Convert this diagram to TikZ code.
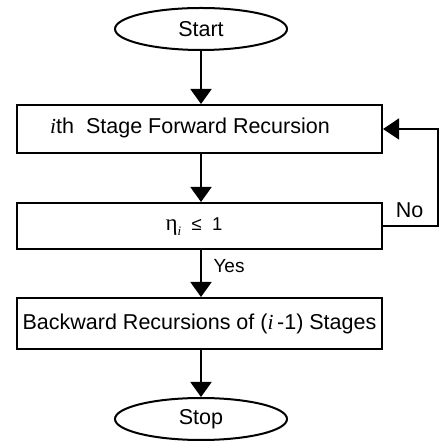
\documentclass[tikz,border=0pt]{standalone}
\usepackage{fontspec}
\setmainfont{Liberation Sans}
\newfontfamily\serifit{Liberation Serif}
\usetikzlibrary{shapes.geometric,arrows.meta}
\newcommand{\iit}{{\serifit\itshape i}}
\begin{document}
\begin{tikzpicture}[x=1pt,y=1pt,
  every node/.style={font=\fontsize{21.5}{25}\selectfont},
  term/.style={draw,ellipse,line width=2pt,minimum width=172pt,minimum height=42pt,inner sep=0pt},
  box/.style={draw,rectangle,line width=2pt,minimum width=365pt,inner sep=0pt},
  flow/.style={line width=2pt,-{Triangle[width=21pt,length=15pt]}},
  back/.style={line width=1.4pt,-{Triangle[width=21pt,length=16pt]}},
  lbl/.style={inner sep=0pt}]
\fill[white] (0,0) rectangle (438,443);
\useasboundingbox (0,0) rectangle (438,443);
\node[term] (start) at (201,414) {Start};
\node[box,minimum height=48pt] (b1) at (199.5,314) {};
\node[lbl] (t1) at (190,315) {\iit th\ \ Stage Forward Recursion};
\node[box,minimum height=46pt] (b2) at (199.5,217) {};
\node[lbl,font=\fontsize{18.5}{22}\selectfont] (t2) at (194,216) {{\fontsize{23}{22}\selectfont\serifit η}\raisebox{-0.45ex}{\fontsize{13}{12}\selectfont\serifit\itshape i}\ \ ≤\ \ 1};
\node[box,minimum height=51pt] (b3) at (199.5,119.5) {Backward Recursions of (\iit\,-1) Stages};
\node[term] (stop) at (201,24) {Stop};
\node[lbl] (no) at (409.5,233) {No};
\node[lbl,font=\fontsize{19}{22}\selectfont] (yes) at (229,177) {Yes};
\draw[flow] (start.south) -- (start.south |- b1.north);
\draw[flow] (b1.south -| start.south) -- (start.south |- b2.north);
\draw[flow] (b2.south -| start.south) -- (start.south |- b3.north);
\draw[flow] (b3.south -| start.south) -- (stop.north);
\draw[back] (b2.east) -- ++(55,0) |- (b1.east);
\end{tikzpicture}
\end{document}
